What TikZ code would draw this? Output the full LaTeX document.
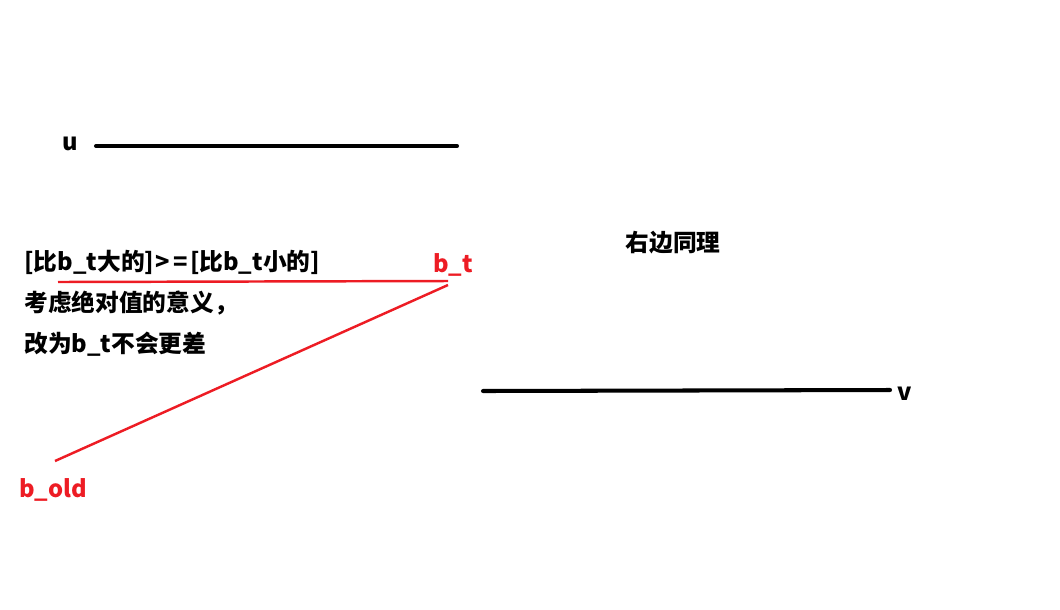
\documentclass[tikz,border=0pt]{standalone}
\usepackage{fontspec}
\setmainfont{Noto Sans CJK SC}
\usetikzlibrary{positioning}
\definecolor{pen}{RGB}{237,28,36}
\tikzset{
  lab/.style ={font=\fontsize{13.5pt}{15pt}\selectfont\bfseries, text=black,
               inner sep=0pt},
  labR/.style={lab, text=pen},
  seg/.style ={line width=2.3pt, black, line cap=round},
  segR/.style={line width=1.4pt, pen},
}
\begin{document}
\begin{tikzpicture}[x=0.02cm, y=-0.02cm]
  \useasboundingbox (0,0) rectangle (1060,609);
  % upper segment
  \node[lab] (u) at (70,144) {u};
  \coordinate (u1) at (96,146);
  \coordinate (u2) at (457,146);
  \draw[seg] (u1) -- (u2);
  % lower segment
  \coordinate (v1) at (483,391);
  \coordinate (v2) at (890,390);
  \draw[seg] (v1) -- (v2);
  \node[lab] (v) at (905,394) {v};
  % note on the left
  \node[lab, anchor=west] (n1) at (24,262)
    {[比b\_t大的]\kern1pt>\kern2pt=\kern1pt[比b\_t小的]};
  \node[lab, anchor=west] (n2) at (24,303) {考虑绝对值的意义，};
  \node[lab, anchor=west] (n3) at (24,344) {改为b\_t不会更差};
  \node[lab] (same) at (673,243) {右边同理};
  % b_t and b_old
  \node[labR] (bt)   at (453,265) {b\_t};
  \node[labR] (bold) at (53,490)  {b\_old};
  \coordinate (h1) at (58,282);
  \coordinate (h2) at (448,281);
  \coordinate (d1) at (448,285);
  \coordinate (d2) at (55,461);
  \draw[segR] (h1) -- (h2);
  \draw[segR] (d1) -- (d2);
\end{tikzpicture}
\end{document}
